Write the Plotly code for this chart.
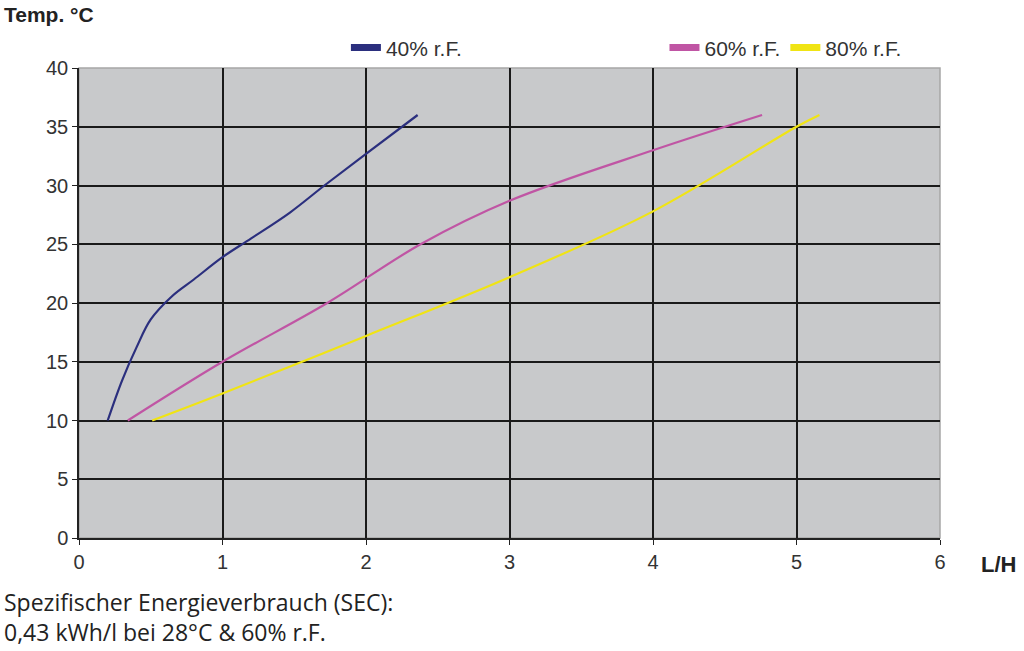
import plotly.graph_objects as go

# --- Daten: Entfeuchtungsleistung (L/H) je Temperatur ---
x_40 = [0.2, 0.3, 0.4, 0.5, 0.65, 0.8, 1.0, 1.2, 1.47, 1.71, 2.0, 2.36]
y_40 = [10, 13.4, 16.2, 18.6, 20.6, 22.0, 23.9, 25.5, 27.7, 30, 32.7, 36]

x_60 = [0.34, 1.0, 1.73, 2.38, 3.0, 4.0, 4.76]
y_60 = [10, 15, 20, 25, 28.7, 33, 36]

x_80 = [0.51, 1.0, 2.0, 3.0, 4.0, 5.0, 5.16]
y_80 = [10, 12.3, 17.2, 22.2, 27.8, 35, 36]

x_ticks = [0, 1, 2, 3, 4, 5, 6]
y_ticks = [0, 5, 10, 15, 20, 25, 30, 35, 40]

serien = [
    ('40% r.F.', x_40, y_40, '#2b2f7e', 'legend'),
    ('60% r.F.', x_60, y_60, '#c055a4', 'legend2'),
    ('80% r.F.', x_80, y_80, '#f0e414', 'legend2'),
]

fig = go.Figure()

for name, xs, ys, farbe, leg in serien:
    fig.add_trace(go.Scatter(x=xs, y=ys, mode='lines', name=name, showlegend=False,
                             line=dict(color=farbe, width=2.2, shape='spline', smoothing=1.0)))
    # nur für die Legende: dicker Balken als Symbol
    fig.add_trace(go.Scatter(x=[None], y=[None], mode='lines', name=name, legend=leg,
                             showlegend=True, line=dict(color=farbe, width=7)))

achse = dict(showline=True, linecolor='#222222', linewidth=1.5,
             ticks='outside', ticklen=5, tickcolor='#222222',
             showgrid=True, gridcolor='#1a1a1a', gridwidth=1.5,
             zeroline=False,
             tickfont=dict(family='Liberation Sans, Arial', size=20, color='#333333'))

fig.update_xaxes(range=[0, 6], tickvals=x_ticks, **achse)
fig.update_yaxes(range=[0, 40], tickvals=y_ticks, **achse)

# heller Rahmen oben/rechts
fig.add_shape(type='rect', xref='paper', yref='paper', x0=0, y0=0, x1=1, y1=1,
              line=dict(color='#a6a6a6', width=1.5), layer='below')

fig.add_annotation(text='<b>Temp. °C</b>', xref='paper', yref='paper',
                   x=-0.0894, y=1.113, xanchor='left', yanchor='middle', showarrow=False,
                   font=dict(family='Liberation Sans, Arial', size=21, color='#222222'))
fig.add_annotation(text='<b>L/H</b>', xref='paper', yref='paper',
                   x=1.045, y=-0.057, xanchor='left', yanchor='middle', showarrow=False,
                   font=dict(family='Liberation Sans, Arial', size=22, color='#222222'))
fig.add_annotation(text='Spezifischer Energieverbrauch (SEC):<br>0,43 kWh/l bei 28°C & 60% r.F.',
                   xref='paper', yref='paper', x=-0.0894, y=-0.097, xanchor='left', yanchor='top',
                   align='left', showarrow=False,
                   font=dict(family='Open Sans, Noto Sans, Liberation Sans', size=23, color='#222222'))

legende = dict(orientation='h', yanchor='middle', xanchor='left', y=1.043,
               bgcolor='rgba(0,0,0,0)',
               font=dict(family='Liberation Sans, Arial', size=21, color='#333333'))

fig.update_layout(
    width=1024, height=651,
    margin=dict(l=79, r=84, t=68, b=113),
    plot_bgcolor='#c8c9cb', paper_bgcolor='white',
    showlegend=True,
    legend=dict(x=0.31, **legende),
    legend2=dict(x=0.68, **legende),
)

# Seitenrand des Browsers entfernen, damit die Grafik bei (0,0) beginnt
fig.write_html("out.html", config={'displayModeBar': False},
               post_script="document.body.style.margin='0';")
